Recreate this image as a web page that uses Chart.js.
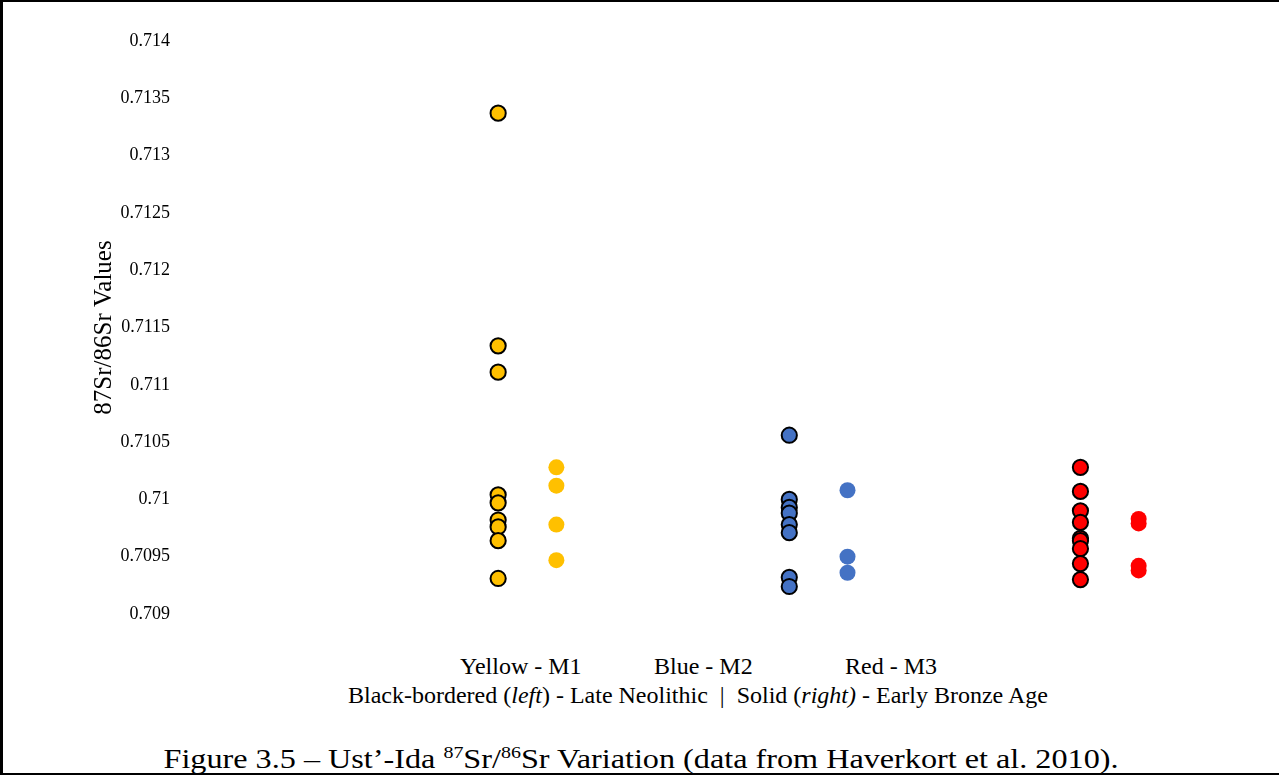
<!DOCTYPE html>
<html>
<head>
<meta charset="utf-8">
<script src="https://cdn.jsdelivr.net/npm/chart.js@4"></script>
<style>
  body { margin: 0; background: #fff; }
  #frame {
    position: relative; width: 1279px; height: 775px; box-sizing: border-box;
    border-top: 2px solid #000; border-left: 3px solid #000; border-bottom: 2px solid #000;
    font-family: 'Liberation Serif', 'Times New Roman', serif; color: #000;
  }
  #chartBox { position: absolute; left: -3px; top: -2px; width: 1279px; height: 642px; }
  .lbl { position: absolute; white-space: nowrap; font-size: 24px; }
  #caption {
    position: absolute; left: 0; width: 1276px; text-align: center; top: 741px; font-size: 28px;
    white-space: nowrap; transform: scaleX(1.15); transform-origin: 638px 0;
  }
  sup { font-size: 0.62em; vertical-align: 0.6em; line-height: 0; }
</style>
</head>
<body>
<div id="frame">
  <div id="chartBox"><canvas id="srChart"></canvas></div>
  <div class="lbl" style="left:457px; top:651px;">Yellow - M1</div>
  <div class="lbl" style="left:651px; top:651px;">Blue - M2</div>
  <div class="lbl" style="left:842px; top:651px;">Red - M3</div>
  <div class="lbl" style="left:345px; top:680px;">Black-bordered (<i>left</i>) - Late Neolithic &nbsp;|&nbsp; Solid (<i>right)</i> - Early Bronze Age</div>
  <div id="caption">Figure 3.5 – Ust’-Ida <sup>87</sup>Sr/<sup>86</sup>Sr Variation (data from Haverkort et al. 2010).</div>
</div>
<script>
document.addEventListener("DOMContentLoaded", function () {

/* DATA */

const groups = ['M1', 'M2', 'M3'];
const yTicks = [0.709, 0.7095, 0.71, 0.7105, 0.711, 0.7115, 0.712, 0.7125, 0.713, 0.7135, 0.714];

// black-bordered (left) - Late Neolithic
const m1Neolithic = [0.71337, 0.71134, 0.71111, 0.71004, 0.70997, 0.70982, 0.70976, 0.70964, 0.70931];
const m2Neolithic = [0.71056, 0.71000, 0.70993, 0.70988, 0.70978, 0.70971, 0.70932, 0.70924];
const m3Neolithic = [0.71028, 0.71007, 0.70990, 0.70980, 0.70966, 0.70964, 0.70957, 0.70944, 0.70930];

// solid (right) - Early Bronze Age
const m1Bronze = [0.71028, 0.71012, 0.70978, 0.70947];
const m2Bronze = [0.71008, 0.70950, 0.70936];
const m3Bronze = [0.70983, 0.70979, 0.70942, 0.70938];

const colours = ['#FFC000', '#4472C4', '#FF0000'];

function points(values, groupIndex, right) {
  return values.map(v => ({ x: groupIndex + 1 + (right ? 0.2 : 0), y: v }));
}

const neolithic = [m1Neolithic, m2Neolithic, m3Neolithic];
const bronze = [m1Bronze, m2Bronze, m3Bronze];

const datasets = [];
groups.forEach(function (g, i) {
  datasets.push({
    label: g + ' Late Neolithic',
    data: points(neolithic[i], i, false),
    backgroundColor: colours[i],
    borderColor: '#000',
    borderWidth: 2,
    pointRadius: 7.6
  });
  datasets.push({
    label: g + ' Early Bronze Age',
    data: points(bronze[i], i, true),
    backgroundColor: colours[i],
    borderWidth: 0,
    pointRadius: 8
  });
});

/* CHART */

const ctx = document.getElementById('srChart');

new Chart(ctx, {

type: 'scatter',

data: { datasets: datasets },

options: {

responsive: true,
maintainAspectRatio: false,
animation: false,

layout: {
  padding: { left: 89, right: 53, top: 41, bottom: 28 }
},

plugins: {
  legend: { display: false },
  tooltip: { enabled: false }
},

scales: {

  x: {
    type: 'linear',
    min: 0,
    max: 3.5,
    display: false
  },

  y: {
    min: yTicks[0],
    max: yTicks[yTicks.length - 1],
    afterFit: function (axis) { axis.width = 118; },
    afterBuildTicks: function (axis) {
      axis.ticks = yTicks.map(v => ({ value: v }));
    },
    // tick marks are not drawn (grid hidden); tickLength only spaces the labels
    grid: { display: false, drawTicks: true, tickLength: 37 },
    border: { display: false },
    ticks: {
      padding: 0,
      color: '#000',
      font: { family: 'Liberation Serif', size: 18 },
      callback: v => String(+v.toFixed(4))
    },
    title: {
      display: true,
      text: '87Sr/86Sr Values',
      color: '#000',
      padding: 0,
      font: { family: 'Liberation Serif', size: 25 }
    }
  }

}

}

});

});
</script>
</body>
</html>
